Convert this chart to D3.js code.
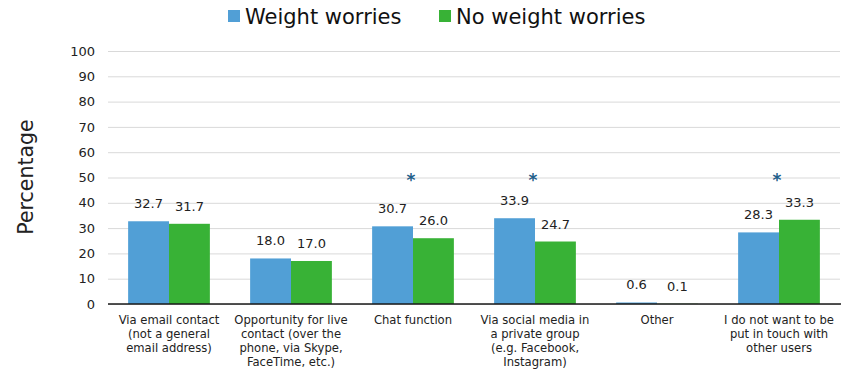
<!DOCTYPE html>
<html>
<head>
<meta charset="utf-8">
<script src="https://cdn.jsdelivr.net/npm/d3@7"></script>
<style>
  html, body { margin: 0; padding: 0; background: #fff; }
  svg { display: block; }
</style>
</head>
<body>
<svg id="chart" width="846" height="371"></svg>
<script>
// Preferred ways of being put in touch with other users
const categories = [
  ["Via email contact", "(not a general", "email address)"],
  ["Opportunity for live", "contact (over the", "phone, via Skype,", "FaceTime, etc.)"],
  ["Chat function"],
  ["Via social media in", "a private group", "(e.g. Facebook,", "Instagram)"],
  ["Other"],
  ["I do not want to be", "put in touch with", "other users"]
];
const seriesNames = ["Weight worries", "No weight worries"];
const weightWorries = [32.7, 18.0, 30.7, 33.9, 0.6, 28.3];
const noWeightWorries = [31.7, 17.0, 26.0, 24.7, 0.1, 33.3];
const significant = [false, false, true, true, false, true];
const yTicks = [0, 10, 20, 30, 40, 50, 60, 70, 80, 90, 100];

const colors = ["#519fd6", "#38b236"];
const svg = d3.select("#chart");
const margin = { left: 108, right: 6, top: 51, bottom: 67 };
const W = 846, H = 371;
const font = "DejaVu Sans, Verdana, sans-serif";

const x0 = d3.scaleBand()
  .domain(d3.range(categories.length))
  .range([margin.left, W - margin.right])
  .paddingInner(0.33).paddingOuter(0.165);
const x1 = d3.scaleBand().domain([0, 1]).range([0, x0.bandwidth()]);
const y = d3.scaleLinear().domain([0, 100]).range([H - margin.bottom, margin.top]);

// gridlines and tick labels
const yAxis = d3.axisLeft(y).tickValues(yTicks).tickSize(-(W - margin.right - margin.left)).tickPadding(13);
const gy = svg.append("g").attr("transform", `translate(${margin.left},0)`).call(yAxis);
gy.select(".domain").remove();
gy.selectAll(".tick line").attr("stroke", "#d9d9d9").attr("stroke-width", 1);
gy.selectAll(".tick text")
  .attr("font-family", font)
  .attr("font-size", 13).attr("fill", "#222");

// bars with value labels
const series = [weightWorries, noWeightWorries];
series.forEach((vals, s) => {
  const g = svg.append("g");
  g.selectAll("rect").data(vals).join("rect")
    .attr("x", (d, i) => x0(i) + x1(s))
    .attr("y", d => y(d))
    .attr("width", x1.bandwidth())
    .attr("height", d => y(0) - y(d))
    .attr("fill", colors[s]);
  g.selectAll("text").data(vals).join("text")
    .attr("x", (d, i) => x0(i) + x1(s) + x1.bandwidth() / 2)
    .attr("y", d => y(d) - 13)
    .attr("text-anchor", "middle")
    .attr("font-family", font)
    .attr("font-size", 13).attr("fill", "#222")
    .text(d => d.toFixed(1));
});

// x axis line
svg.append("line")
  .attr("x1", margin.left).attr("x2", W - margin.right + 1)
  .attr("y1", y(0)).attr("y2", y(0))
  .attr("stroke", "#1a1a1a").attr("stroke-width", 1.6);

// significance markers
svg.append("g").selectAll("text")
  .data(significant.map((s, i) => ({ s, i })).filter(d => d.s))
  .join("text")
  .attr("x", d => x0(d.i) + x0.bandwidth() / 2 - 2)
  .attr("y", y(50) + 8.5)
  .attr("text-anchor", "middle")
  .attr("font-family", font)
  .attr("font-weight", "bold")
  .attr("font-size", 17).attr("fill", "#1f5f8b")
  .text("*");

// category labels
const cat = svg.append("g");
categories.forEach((lines, i) => {
  const t = cat.append("text")
    .attr("text-anchor", "middle")
    .attr("font-family", font)
    .attr("font-size", 11.6).attr("fill", "#222");
  lines.forEach((ln, k) => {
    t.append("tspan")
      .attr("x", x0(i) + x0.bandwidth() / 2)
      .attr("y", 324.3 + k * 13.9)
      .text(ln);
  });
});

// y axis title
svg.append("text")
  .attr("transform", `translate(33,${177}) rotate(-90)`)
  .attr("text-anchor", "middle")
  .attr("font-family", font)
  .attr("font-size", 20.5).attr("fill", "#222")
  .text("Percentage");

// legend
const legendX = [228, 439];
seriesNames.forEach((name, s) => {
  svg.append("rect").attr("x", legendX[s]).attr("y", 10)
    .attr("width", 12).attr("height", 12).attr("fill", colors[s]);
  svg.append("text").attr("x", legendX[s] + 17).attr("y", 23.5)
    .attr("font-family", font)
    .attr("font-size", 21).attr("fill", "#111")
    .text(name);
});
</script>
</body>
</html>
